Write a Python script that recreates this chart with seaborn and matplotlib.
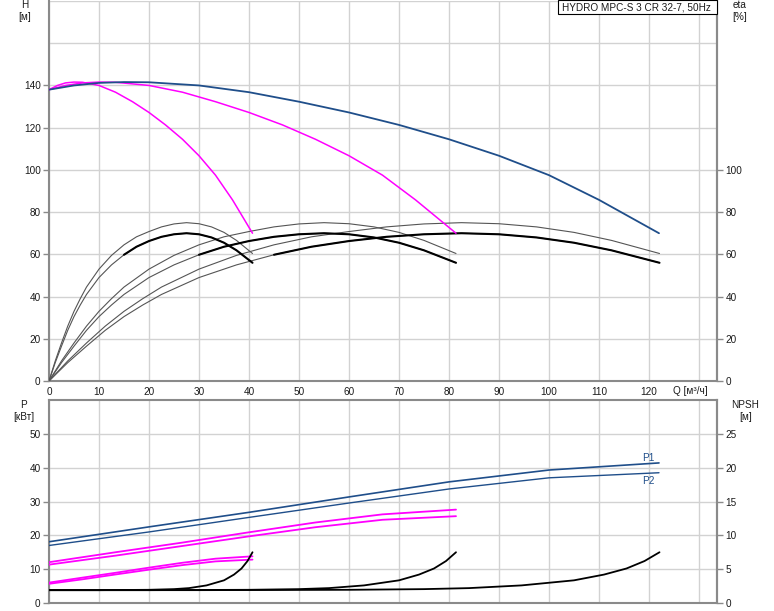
import matplotlib
matplotlib.use("Agg")
import matplotlib.pyplot as plt
from matplotlib.patches import Rectangle
import seaborn as sns

# ---------------- data ----------------
# Head curves H [m] vs Q [m3/h]
q_h1 = [0, 1.7, 3.3, 5, 6.7, 10, 13.3, 16.7, 20, 23.3, 26.7, 30, 33.3, 36.7, 40.7]
q_h2 = [0, 3.3, 6.7, 10, 13.3, 20, 26.7, 33.3, 40, 46.7, 53.3, 60, 66.7, 73.3, 81.4]
q_h3 = [0, 5, 10, 15, 20, 30, 40, 50, 60, 70, 80, 90, 100, 110, 122]
h1 = [138, 140, 141.2, 141.6, 141.5, 140, 136.8, 132.3, 127.2, 121.3,
      114.5, 106.7, 97.5, 85.8, 70]
h2 = [138, 140, 141.2, 141.6, 141.5, 140, 136.8, 132.3, 127.2, 121.3,
      114.5, 106.7, 97.5, 85.8, 70]
h3 = [138, 140, 141.2, 141.6, 141.5, 140, 136.8, 132.3, 127.2, 121.3,
      114.5, 106.7, 97.5, 85.8, 70]

# Efficiency curves eta [%]
q_e1 = [0, 1.25, 2.5, 3.75, 5, 6.25, 7.5, 10, 12.5, 15, 17.5, 20, 22.5, 25, 27.5,
        30, 32.5, 35, 37.5, 40.7]
q_e2 = [0, 2.5, 5, 7.5, 10, 12.5, 15, 20, 25, 30, 35, 40, 45, 50, 55,
        60, 65, 70, 75, 81.4]
q_e3 = [0, 3.75, 7.5, 11.25, 15, 18.75, 22.5, 30, 37.5, 45, 52.5, 60, 67.5, 75, 82.5,
        90, 97.5, 105, 112.5, 122.1]
eta_hi = [0, 9.5, 18, 26, 33, 39, 44.5, 53, 59.5, 64.5, 68.3, 70.8, 73, 74.4, 75,
          74.5, 73, 70.4, 66.6, 60.4]
eta_lo = [0, 8.7, 16.5, 24, 30.5, 36, 41, 49, 55, 59.8, 63.6, 66.3, 68.3, 69.5, 70,
          69.5, 68, 65.5, 61.9, 56]
thick_from = 9  # index where the bold part of the lower eta curve starts (Q = 15/30/45)

# Power curves P [kW]
q_p1 = [0, 6.7, 13.3, 20, 26.7, 33.3, 40.7]
q_p2 = [0, 13.3, 26.7, 40, 53.3, 66.7, 81.4]
q_p3 = [0, 20, 40, 60, 80, 100, 122]
p1_1 = [6.03, 7.5, 8.93, 10.45, 11.9, 13.1, 13.8]
p2_1 = [5.67, 7.0, 8.43, 9.85, 11.2, 12.3, 12.83]
p1_2 = [12.06, 15.0, 17.86, 20.9, 23.8, 26.2, 27.6]
p2_2 = [11.34, 14.0, 16.86, 19.7, 22.4, 24.6, 25.66]
p1_3 = [18.1, 22.5, 26.8, 31.35, 35.8, 39.3, 41.4]
p2_3 = [17.0, 21.0, 25.3, 29.55, 33.7, 37.0, 38.5]

# NPSH curves [m]
q_n1 = [0, 10, 20, 25, 28, 31.5, 35, 37, 38.5, 39.7, 40.7]
q_n2 = [0, 20, 40, 50, 56, 63, 70, 74, 77, 79.4, 81.4]
q_n3 = [0, 30, 60, 75, 84, 94.5, 105, 111, 115.5, 119.1, 122.1]
npsh = [1.9, 1.9, 1.95, 2.05, 2.2, 2.6, 3.35, 4.2, 5.1, 6.2, 7.5]

x_ticks = [0, 10, 20, 30, 40, 50, 60, 70, 80, 90, 100, 110, 120]
h_ticks = [0, 20, 40, 60, 80, 100, 120, 140]
eta_ticks = [0, 20, 40, 60, 80, 100]
p_ticks = [0, 10, 20, 30, 40, 50]
npsh_ticks = [0, 5, 10, 15, 20, 25]
title = "HYDRO MPC-S 3 CR 32-7, 50Hz"

# ---------------- styling ----------------
sns.set_theme(style="white")
plt.rcParams['font.family'] = ['Liberation Sans', 'DejaVu Sans']
FS = 7.2
BLUE = '#1f4e8a'
MAG = '#ff00ff'
GRID = '#d2d2d2'
SPINE = '#8a8a8a'
TXT = '#1a1a1a'

W, H = 774, 611
fig = plt.figure(figsize=(W / 100, H / 100), dpi=100)
fig.patch.set_facecolor('white')

L, R = 49, 717
ax_h = fig.add_axes([L / W, (H - 381) / H, (R - L) / W, 380 / H])
ax_p = fig.add_axes([L / W, (H - 603) / H, (R - L) / W, 203 / H])
xmax = (R - L) / 5.0

for ax in (ax_h, ax_p):
    ax.set_xlim(0, xmax)
    ax.set_xticks(list(range(0, 140, 10)))
    ax.grid(True, which='both', color=GRID, lw=1.0)
    ax.set_axisbelow(True)
    for s in ax.spines.values():
        s.set_color(SPINE)
        s.set_linewidth(1.5)

ax_h.set_ylim(0, 180)
ax_h.set_yticks(h_ticks)
ax_h.set_yticks([160, 180], minor=True)
ax_h.set_yticklabels([str(v) for v in h_ticks], fontsize=FS, color=TXT)
ax_h.set_xticklabels([str(v) if v in x_ticks else '' for v in range(0, 140, 10)], fontsize=FS, color=TXT)
ax_h.tick_params(axis='x', length=0, pad=4)
ax_h.tick_params(axis='y', which='major', length=4, width=1, color=SPINE, pad=2, direction='out')
ax_h.tick_params(axis='y', which='minor', length=0)
ax_h.spines['top'].set_visible(False)

ax_eta = ax_h.twinx()
ax_eta.set_ylim(0, 180)
ax_eta.set_yticks(eta_ticks)
ax_eta.set_yticklabels([str(v) for v in eta_ticks], fontsize=FS, color=TXT)
ax_eta.tick_params(axis='y', length=4, width=1, color=SPINE, pad=2, direction='out')
for s in ax_eta.spines.values():
    s.set_visible(False)
ax_eta.spines['right'].set_visible(True)
ax_eta.spines['right'].set_color(SPINE)
ax_eta.spines['right'].set_linewidth(1.5)

ax_p.set_ylim(0, 60)
ax_p.set_yticks(p_ticks)
ax_p.set_yticklabels([str(v) for v in p_ticks], fontsize=FS, color=TXT)
ax_p.tick_params(axis='x', length=0, labelbottom=False)
ax_p.tick_params(axis='y', length=4, width=1, color=SPINE, pad=2, direction='out')

ax_n = ax_p.twinx()
ax_n.set_ylim(0, 30)
ax_n.set_yticks(npsh_ticks)
ax_n.set_yticklabels([str(v) for v in npsh_ticks], fontsize=FS, color=TXT)
ax_n.tick_params(axis='y', length=4, width=1, color=SPINE, pad=2, direction='out')
for s in ax_n.spines.values():
    s.set_visible(False)
ax_n.spines['right'].set_visible(True)
ax_n.spines['right'].set_color(SPINE)
ax_n.spines['right'].set_linewidth(1.5)

# ---------------- curves ----------------
def line(ax, x, y, color, lw, z=3):
    sns.lineplot(x=x, y=y, ax=ax, color=color, lw=lw, sort=False, zorder=z, legend=False)

# efficiency
for qe in (q_e1, q_e2, q_e3):
    line(ax_h, qe, eta_hi, '#555555', 0.8)
    line(ax_h, qe, eta_lo, '#555555', 0.8)
    line(ax_h, qe[thick_from:], eta_lo[thick_from:], 'black', 1.5, 4)

# head
line(ax_h, q_h1, h1, MAG, 1.1, 5)
line(ax_h, q_h2, h2, MAG, 1.1, 5)
line(ax_h, q_h3, h3, BLUE, 1.3, 6)

# power
line(ax_p, q_p1, p1_1, MAG, 1.3, 5)
line(ax_p, q_p1, p2_1, MAG, 1.3, 5)
line(ax_p, q_p2, p1_2, MAG, 1.3, 5)
line(ax_p, q_p2, p2_2, MAG, 1.3, 5)
line(ax_p, q_p3, p1_3, BLUE, 1.2, 6)
line(ax_p, q_p3, p2_3, BLUE, 1.0, 6)

# npsh
for qn in (q_n1, q_n2, q_n3):
    line(ax_n, qn, npsh, 'black', 1.3, 4)

ax_p.text(119.8, 43.0, "P1", fontsize=FS, color=BLUE, ha='center', va='center')
ax_p.text(119.8, 36.2, "P2", fontsize=FS, color=BLUE, ha='center', va='center')

# ---------------- labels ----------------
def ftext(px, py, s, **kw):
    fig.text(px / W, 1 - py / H, s, fontsize=FS, color=TXT, ha='center', va='center', **kw)

ftext(25, 4.5, "H")
ftext(25, 17, "[м]")
ftext(740, 5, "eta")
ftext(740, 17, "[%]")
ftext(23.5, 405, "P")
ftext(23.5, 417, "[кВт]")
ftext(745.5, 405, "NPSH")
ftext(745.5, 417, "[м]")
ftext(690, 391, "Q [м³/ч]")

fig.patches.append(Rectangle((558 / W, 1 - 14 / H), (717 - 558) / W, 14 / H,
                             transform=fig.transFigure, facecolor='white',
                             edgecolor='black', lw=0.8, zorder=10))
fig.text(561.5 / W, 1 - 7.3 / H, title, fontsize=FS, color=TXT, ha='left', va='center', zorder=11)

fig.savefig("out.png", dpi=100, facecolor='white')
